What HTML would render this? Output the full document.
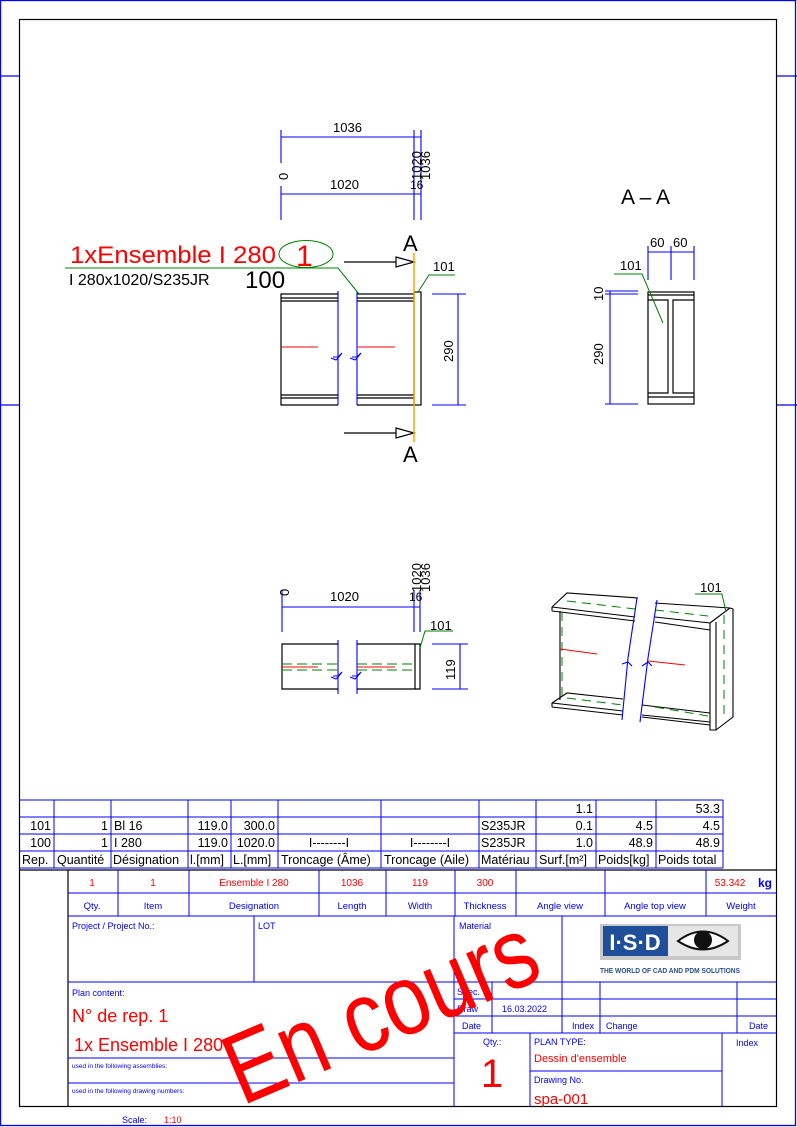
<!DOCTYPE html>
<html><head><meta charset="utf-8"><style>
html,body{margin:0;padding:0;background:#fff;}
svg{display:block;}
text{font-family:"Liberation Sans",sans-serif;}
</style></head><body>
<svg width="797" height="1127" viewBox="0 0 797 1127" xmlns="http://www.w3.org/2000/svg">
<rect x="0.5" y="0.5" width="795" height="1125" fill="none" stroke="#0000ff" stroke-width="1.3"/>
<rect x="19.5" y="19.5" width="757" height="1087" fill="none" stroke="#000" stroke-width="1.2"/>
<g stroke="#0000ff" stroke-width="1.2">
<line x1="0" y1="76" x2="19" y2="76"/><line x1="0" y1="405" x2="19" y2="405"/>
<line x1="777" y1="76" x2="797" y2="76"/><line x1="777" y1="405" x2="797" y2="405"/>
</g>

<g stroke="#0000ff" stroke-width="1.1" fill="none">
<line x1="281" y1="137" x2="421" y2="137"/>
<line x1="281" y1="194" x2="421" y2="194"/>
<line x1="281" y1="130" x2="281" y2="163"/><line x1="281" y1="186" x2="281" y2="220"/>
<line x1="414" y1="130" x2="414" y2="220"/><line x1="421" y1="130" x2="421" y2="220"/>
<line x1="338" y1="291" x2="338" y2="405"/><line x1="357" y1="291" x2="357" y2="405"/>
<path d="M333 357 L338 357 L342 353 L338 358 L336 360 L331 358"/>
<path d="M352 357 L357 357 L361 353 L357 358 L355 360 L350 358"/>
<line x1="458" y1="294" x2="458" y2="405"/>
<line x1="432" y1="294" x2="466" y2="294"/><line x1="432" y1="405" x2="466" y2="405"/>
</g>
<g fill="#000" font-size="13">
<text x="333" y="132">1036</text>
<text x="330" y="189">1020</text>
<text transform="translate(288,180) rotate(-90)">0</text>
<text transform="translate(421,180) rotate(-90)" font-size="13">1020</text>
<text transform="translate(430,180) rotate(-90)" font-size="13">1036</text>
<text x="410" y="189" font-size="12">16</text>
<text transform="translate(453,362) rotate(-90)">290</text>
</g>
<g stroke="#000" stroke-width="1.2" fill="none">
<path d="M338 294 L281 294 L281 405 L338 405"/>
<path d="M357 294 L414 294 M357 405 L414 405"/>
<line x1="281" y1="298" x2="338" y2="298"/><line x1="281" y1="301" x2="338" y2="301"/>
<line x1="281" y1="395" x2="338" y2="395"/><line x1="281" y1="398" x2="338" y2="398"/>
<line x1="357" y1="298" x2="414" y2="298"/><line x1="357" y1="301" x2="414" y2="301"/>
<line x1="357" y1="395" x2="414" y2="395"/><line x1="357" y1="398" x2="414" y2="398"/>
<rect x="414" y="292" width="7" height="113"/>
<line x1="344" y1="262" x2="396" y2="262"/><path d="M396 257 L414 262 L396 267 Z"/>
<line x1="344" y1="433" x2="396" y2="433"/><path d="M396 428 L414 433 L396 438 Z"/>
</g>
<line x1="281" y1="347" x2="318" y2="347" stroke="#f00"/>
<line x1="357" y1="347" x2="395" y2="347" stroke="#f00"/>
<line x1="414" y1="253" x2="414" y2="442" stroke="#ffa500" stroke-width="1.5"/>
<g fill="#000" font-size="22"><text x="403" y="251">A</text><text x="403" y="462">A</text></g>
<text x="70" y="263" font-size="24" fill="#f00" textLength="206" lengthAdjust="spacingAndGlyphs">1xEnsemble I 280</text>
<ellipse cx="306" cy="254" rx="27" ry="13.5" fill="none" stroke="#008000"/>
<text x="296" y="266" font-size="30" fill="#f00">1</text>
<path d="M65 268 L338 268 L359 294" stroke="#008000" fill="none"/>
<text x="69" y="285" font-size="16" fill="#000">I 280x1020/S235JR</text>
<text x="245" y="288" font-size="24" fill="#000">100</text>
<text x="433" y="271" font-size="13">101</text>
<path d="M455 275 L429 275 L418 292" stroke="#008000" fill="none"/>

<text x="621" y="204" font-size="21" fill="#000">A – A</text>
<g stroke="#0000ff" stroke-width="1.1" fill="none">
<line x1="648" y1="252" x2="694" y2="252"/>
<line x1="648" y1="246" x2="648" y2="280"/><line x1="671" y1="246" x2="671" y2="280"/><line x1="694" y1="246" x2="694" y2="280"/>
<line x1="610" y1="291" x2="610" y2="404"/>
<line x1="605" y1="291" x2="638" y2="291"/><line x1="605" y1="294" x2="638" y2="294"/><line x1="605" y1="404" x2="638" y2="404"/>
</g>
<g font-size="13" fill="#000">
<text x="650" y="247">60</text><text x="673" y="247">60</text>
<text transform="translate(603,301) rotate(-90)">10</text>
<text transform="translate(603,365) rotate(-90)">290</text>
<text x="620" y="270">101</text>
</g>
<g stroke="#000" stroke-width="1.2" fill="none">
<rect x="648" y="292" width="46" height="112"/>
<line x1="648" y1="295" x2="694" y2="295"/>
<path d="M648 300 L668 300 L668 393 L648 393 M694 300 L673 300 L673 393 L694 393"/>
<line x1="648" y1="397" x2="694" y2="397"/>
</g>
<path d="M614 274 L642 274 L663 323" stroke="#008000" fill="none"/>

<g stroke="#0000ff" stroke-width="1.1" fill="none">
<line x1="282" y1="607" x2="420" y2="607"/>
<line x1="282" y1="590" x2="282" y2="632"/><line x1="414" y1="590" x2="414" y2="632"/><line x1="420" y1="590" x2="420" y2="632"/>
<line x1="338" y1="640" x2="338" y2="694"/><line x1="357" y1="640" x2="357" y2="694"/>
<path d="M333 676 L338 676 L342 672 L338 677 L336 679 L331 677"/>
<path d="M352 676 L357 676 L361 672 L357 677 L355 679 L350 677"/>
<line x1="460" y1="644" x2="460" y2="689"/>
<line x1="432" y1="644" x2="468" y2="644"/><line x1="432" y1="689" x2="468" y2="689"/>
</g>
<g font-size="13" fill="#000">
<text x="330" y="601">1020</text>
<text transform="translate(289,596) rotate(-90)">0</text>
<text transform="translate(421,592) rotate(-90)" font-size="13">1020</text>
<text transform="translate(430,592) rotate(-90)" font-size="13">1036</text>
<text x="409" y="601" font-size="12">16</text>
<text transform="translate(455,680) rotate(-90)">119</text>
<text x="430" y="630">101</text>
</g>
<g stroke="#000" stroke-width="1.2" fill="none">
<path d="M338 644 L282 644 L282 689 L338 689 M357 644 L420 644 L420 689 L357 689"/>
<line x1="415" y1="644" x2="415" y2="689"/>
</g>
<g stroke="#008000" stroke-dasharray="10 5" fill="none">
<line x1="282" y1="664" x2="338" y2="664"/><line x1="282" y1="670" x2="338" y2="670"/>
<line x1="357" y1="664" x2="415" y2="664"/><line x1="357" y1="670" x2="415" y2="670"/>
</g>
<line x1="282" y1="667" x2="318" y2="667" stroke="#f00"/>
<line x1="357" y1="667" x2="395" y2="667" stroke="#f00"/>
<path d="M453 631 L425 631 L420 648" stroke="#008000" fill="none"/>

<g stroke="#000" stroke-width="1.1" fill="none">
<path d="M552 607 L567 593 L638 598 M552 607 L635 617 M552 611 L635 621 M552 607 L552 611"/>
<line x1="560" y1="611" x2="560" y2="700"/>
<path d="M552 703 L567 693 L623 699 M552 703 L623 711 M552 707 L623 715 M552 703 L552 707"/>
<path d="M655 603 L730 608 M655 617 L710 623 M655 622 L710 630"/>
<path d="M710 623 L710 730 L716 730 L716 622 M710 623 L730 608 L733 609 L733 717 L716 730"/>
<path d="M642 705 L710 713 M642 715 L710 722 M642 717 L710 725"/>
</g>
<g stroke="#008000" stroke-dasharray="9 6" fill="none">
<line x1="567" y1="601" x2="635" y2="609"/><line x1="655" y1="610" x2="708" y2="616"/>
<line x1="567" y1="698" x2="623" y2="705"/><line x1="655" y1="707" x2="708" y2="716"/>
<line x1="562" y1="612" x2="562" y2="700"/><line x1="724" y1="615" x2="724" y2="720"/>
</g>
<g stroke="#0000ff" stroke-width="1.1" fill="none">
<path d="M637 598 L628 658 L622 720"/><path d="M657 600 L648 658 L640 722"/>
<path d="M622 664 L628 662 L632 666"/><path d="M642 666 L648 662 L652 666"/>
</g>
<line x1="560" y1="649" x2="597" y2="654" stroke="#f00"/>
<line x1="648" y1="661" x2="685" y2="665" stroke="#f00"/>
<text x="700" y="592" font-size="13">101</text>
<path d="M695 594 L722 594 L726 612" stroke="#008000" fill="none"/>

<g stroke="#0000ff" stroke-width="1" fill="none">
<line x1="20" y1="800" x2="723" y2="800"/><line x1="20" y1="817" x2="723" y2="817"/>
<line x1="20" y1="834" x2="723" y2="834"/><line x1="20" y1="851" x2="723" y2="851"/>
<line x1="20" y1="868" x2="723" y2="868"/>
<line x1="54" y1="800" x2="54" y2="868"/><line x1="111" y1="800" x2="111" y2="868"/>
<line x1="188" y1="800" x2="188" y2="868"/><line x1="231" y1="800" x2="231" y2="868"/>
<line x1="278" y1="800" x2="278" y2="868"/><line x1="381" y1="800" x2="381" y2="868"/>
<line x1="479" y1="800" x2="479" y2="868"/><line x1="536" y1="800" x2="536" y2="868"/>
<line x1="596" y1="800" x2="596" y2="868"/><line x1="656" y1="800" x2="656" y2="868"/>
<line x1="723" y1="800" x2="723" y2="868"/>
</g>
<g font-size="12.5" fill="#000">
<text x="593" y="813" text-anchor="end">1.1</text><text x="720" y="813" text-anchor="end">53.3</text>
<text x="51" y="830" text-anchor="end">101</text><text x="108" y="830" text-anchor="end">1</text><text x="114" y="830">Bl 16</text>
<text x="228" y="830" text-anchor="end">119.0</text><text x="275" y="830" text-anchor="end">300.0</text>
<text x="481" y="830">S235JR</text><text x="593" y="830" text-anchor="end">0.1</text><text x="653" y="830" text-anchor="end">4.5</text><text x="720" y="830" text-anchor="end">4.5</text>
<text x="51" y="847" text-anchor="end">100</text><text x="108" y="847" text-anchor="end">1</text><text x="114" y="847">I 280</text>
<text x="228" y="847" text-anchor="end">119.0</text><text x="275" y="847" text-anchor="end">1020.0</text>
<text x="329" y="847" text-anchor="middle">I--------I</text><text x="430" y="847" text-anchor="middle">I--------I</text>
<text x="481" y="847">S235JR</text><text x="593" y="847" text-anchor="end">1.0</text><text x="653" y="847" text-anchor="end">48.9</text><text x="720" y="847" text-anchor="end">48.9</text>
<text x="22" y="864">Rep.</text><text x="57" y="864">Quantité</text><text x="113" y="864">Désignation</text>
<text x="190" y="864">l.[mm]</text><text x="233" y="864">L.[mm]</text><text x="281" y="864">Troncage (Âme)</text>
<text x="384" y="864">Troncage (Aile)</text><text x="481" y="864">Matériau</text><text x="539" y="864">Surf.[m²]</text>
<text x="598" y="864">Poids[kg]</text><text x="658" y="864">Poids total</text>
</g>

<line x1="19" y1="870" x2="777" y2="870" stroke="#000" stroke-width="1.2"/>
<line x1="68" y1="870" x2="68" y2="1107" stroke="#000" stroke-width="1.2"/>
<g stroke="#0000ff" stroke-width="1" fill="none">
<line x1="68" y1="893" x2="777" y2="893"/><line x1="68" y1="916" x2="777" y2="916"/>
<line x1="118" y1="870" x2="118" y2="916"/><line x1="189" y1="870" x2="189" y2="916"/>
<line x1="319" y1="870" x2="319" y2="916"/><line x1="386" y1="870" x2="386" y2="916"/>
<line x1="455" y1="870" x2="455" y2="916"/><line x1="516" y1="870" x2="516" y2="916"/>
<line x1="605" y1="870" x2="605" y2="916"/><line x1="706" y1="870" x2="706" y2="916"/>
<line x1="68" y1="982" x2="777" y2="982"/>
<line x1="254" y1="916" x2="254" y2="982"/><line x1="454" y1="916" x2="454" y2="1107"/>
<line x1="562" y1="916" x2="562" y2="1033"/>
<line x1="454" y1="999" x2="777" y2="999"/><line x1="454" y1="1016" x2="777" y2="1016"/>
<line x1="454" y1="1033" x2="777" y2="1033"/>
<line x1="492" y1="982" x2="492" y2="1033"/><line x1="600" y1="982" x2="600" y2="1033"/>
<line x1="737" y1="982" x2="737" y2="1033"/>
<line x1="68" y1="1058" x2="454" y2="1058"/><line x1="68" y1="1083" x2="454" y2="1083"/>
<line x1="530" y1="1033" x2="530" y2="1107"/><line x1="722" y1="1033" x2="722" y2="1107"/>
<line x1="530" y1="1071" x2="722" y2="1071"/>
</g>
<g font-size="10" fill="#f00" text-anchor="middle">
<text x="92" y="886">1</text><text x="153" y="886">1</text><text x="254" y="886">Ensemble I 280</text>
<text x="352" y="886">1036</text><text x="420" y="886">119</text><text x="485" y="886">300</text>
<text x="730" y="886">53.342</text>
</g>
<text x="758" y="887" font-size="12" font-weight="bold" fill="#0000ff">kg</text>
<g font-size="9.5" fill="#0000ff" text-anchor="middle">
<text x="92" y="909">Qty.</text><text x="153" y="909">Item</text><text x="254" y="909">Designation</text>
<text x="352" y="909">Length</text><text x="420" y="909">Width</text><text x="485" y="909">Thickness</text>
<text x="560" y="909">Angle view</text><text x="655" y="909">Angle top view</text><text x="741" y="909">Weight</text>
</g>
<g font-size="9" fill="#0000ff">
<text x="72" y="929">Project / Project No.:</text><text x="258" y="929">LOT</text><text x="459" y="929">Material</text>
<text x="72" y="996">Plan content:</text>
<text x="457" y="995">Spec.</text><text x="457" y="1012">Draw</text><text x="502" y="1012">16.03.2022</text>
<text x="462" y="1029">Date</text><text x="572" y="1029">Index</text><text x="606" y="1029">Change</text><text x="749" y="1029">Date</text>
<text x="483" y="1045">Qty.:</text><text x="534" y="1045">PLAN TYPE:</text><text x="736" y="1046">Index</text>
<text x="534" y="1083">Drawing No.</text>
<text x="72" y="1068" font-size="6.5">used in the following assemblies:</text>
<text x="72" y="1093" font-size="6.5">used in the following drawing numbers:</text>
<text x="122" y="1123">Scale:</text>
</g>
<text x="164" y="1123" font-size="9" fill="#f00">1:10</text>
<text x="72" y="1022" font-size="18" fill="#f00">N° de rep. 1</text>
<text x="74" y="1051" font-size="18" fill="#f00">1x Ensemble I 280</text>
<text x="534" y="1062" font-size="11" fill="#f00">Dessin d'ensemble</text>
<text x="534" y="1104" font-size="15" fill="#f00">spa-001</text>
<text x="492" y="1087" font-size="40" fill="#f00" text-anchor="middle">1</text>
<rect x="600" y="924" width="141" height="36" fill="#c8c8c8"/>
<rect x="603" y="926" width="65" height="30" fill="#1f4e9a"/>
<rect x="668" y="926" width="70" height="30" fill="#e6e6e6"/>
<text x="635" y="950" font-size="22" font-weight="bold" fill="#fff" text-anchor="middle">I·S·D</text>
<path d="M678 941 Q703 922 728 941 Q703 958 678 941 Z" fill="#fff" stroke="#111" stroke-width="2"/>
<circle cx="703" cy="940" r="9" fill="#111"/>
<text x="600" y="973" font-size="7.5" font-weight="bold" fill="#2a4f8a" textLength="140" lengthAdjust="spacingAndGlyphs">THE WORLD OF CAD AND PDM SOLUTIONS</text>
<text transform="translate(242,1106) rotate(-23)" font-size="100" fill="#f00" textLength="330" lengthAdjust="spacingAndGlyphs">En cours</text>
</svg>
</body></html>
